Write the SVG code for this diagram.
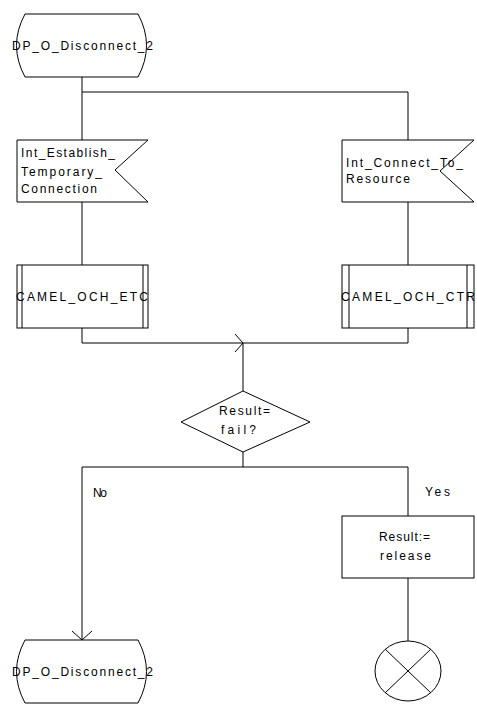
<svg xmlns="http://www.w3.org/2000/svg" width="477" height="718" viewBox="0 0 477 718">
<defs>
<style>
.s{fill:#fff;stroke:#000;stroke-width:1}
.l{fill:none;stroke:#000;stroke-width:1}
text{font-family:"Liberation Sans",Arial,sans-serif;font-size:12px;fill:#000}
.c{text-anchor:middle}
</style>
</defs>
<g id="connectors">
<path class="l" d="M82,77 V140"/>
<path class="l" d="M82,92 H408 V140"/>
<path class="l" d="M82,202 V265"/>
<path class="l" d="M408,202 V265"/>
<path class="l" d="M82,328 V343 H243"/>
<path class="l" d="M235,334 L243,343 L235,352"/>
<path class="l" d="M408,328 V343 H243"/>
<path class="l" d="M243,343 V391"/>
<path class="l" d="M243,452 V467"/>
<path class="l" d="M82,467 H408"/>
<path class="l" d="M82,467 V640"/>
<path class="l" d="M72,631 L82,640 L92,631"/>
<path class="l" d="M408,467 V516"/>
<path class="l" d="M408,578 V641"/>
<text x="93" y="497" textLength="14" lengthAdjust="spacing">No</text>
<text x="425" y="496" textLength="25" lengthAdjust="spacing">Yes</text>
</g>
<g id="start">
<path class="s" d="M25,14 H138 Q155,45.5 138,77 H25 Q8,45.5 25,14 Z"/>
<text x="12" y="50" textLength="141" lengthAdjust="spacing">DP_O_Disconnect_2</text>
</g>
<g id="sig1">
<path class="s" d="M17,140 H148 L115,170 L148,202 H17 Z"/>
<text x="21" y="157" textLength="94" lengthAdjust="spacing">Int_Establish_</text>
<text x="21" y="176" textLength="81" lengthAdjust="spacing">Temporary_</text>
<text x="21" y="193" textLength="76" lengthAdjust="spacing">Connection</text>
</g>
<g id="sig2">
<path class="s" d="M342,140 H474 L440,171 L474,202 H342 Z"/>
<text x="346" y="167" textLength="117" lengthAdjust="spacing">Int_Connect_To_</text>
<text x="346" y="183" textLength="64" lengthAdjust="spacing">Resource</text>
</g>
<g id="proc1">
<rect class="s" x="17" y="265" width="131" height="63"/>
<path class="l" d="M22,265 V328 M143,265 V328"/>
<text x="16" y="301" textLength="132" lengthAdjust="spacing">CAMEL_OCH_ETC</text>
</g>
<g id="proc2">
<rect class="s" x="342" y="265" width="132" height="63"/>
<path class="l" d="M349,265 V328 M467,265 V328"/>
<text x="341" y="301" textLength="134" lengthAdjust="spacing">CAMEL_OCH_CTR</text>
</g>
<g id="decision">
<path class="s" d="M243,391 L310,422 L243,452 L181,422 Z"/>
<text x="219" y="415" textLength="51" lengthAdjust="spacing">Result=</text>
<text x="221" y="434" textLength="35" lengthAdjust="spacing">fail?</text>
</g>
<g id="task">
<rect class="s" x="342" y="516" width="132" height="62"/>
<text x="379" y="541" textLength="51" lengthAdjust="spacing">Result:=</text>
<text x="380" y="560" textLength="51" lengthAdjust="spacing">release</text>
</g>
<g id="stop">
<ellipse class="s" cx="408" cy="671" rx="33" ry="30"/>
<path class="l" d="M385,649 L431,693 M431,649 L385,693"/>
</g>
<g id="end">
<path class="s" d="M25,640 H138 Q155,671.5 138,703 H25 Q8,671.5 25,640 Z"/>
<text x="12" y="676" textLength="141" lengthAdjust="spacing">DP_O_Disconnect_2</text>
</g>
</svg>
